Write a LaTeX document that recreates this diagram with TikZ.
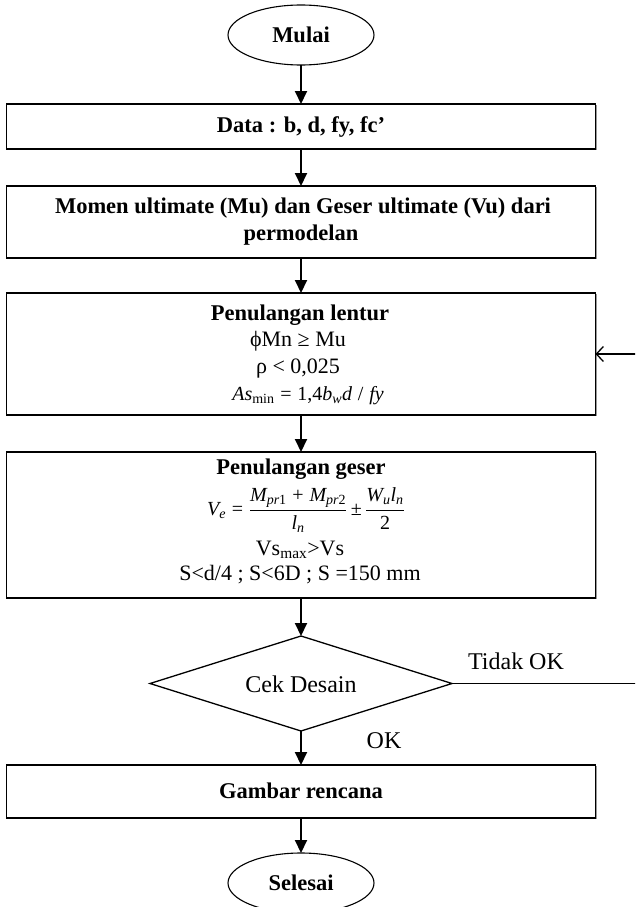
\documentclass[tikz,border=0pt]{standalone}
\usepackage{fontspec}
\usepackage{amsmath}
\setmainfont{Liberation Serif}
\usetikzlibrary{shapes.geometric,arrows.meta,shadows}

% italic and upright pieces of the formulas, set in the text font
\newcommand{\fit}[1]{\text{\itshape #1}}
\newcommand{\fup}[1]{\text{\upshape #1}}

\begin{document}
\begin{tikzpicture}[x=1pt,y=-1pt,
  every node/.style={inner sep=0pt,outer sep=0pt},
  procbox/.style={draw,line width=1.2pt,fill=white,minimum width=589pt,
    drop shadow={shadow xshift=1.4pt,shadow yshift=-1.4pt,fill=black!40,opacity=1}},
  termin/.style={ellipse,draw,line width=1.1pt,minimum width=146pt,minimum height=60pt},
  decis/.style={diamond,draw,line width=1.3pt,aspect=3.18,minimum width=302pt,minimum height=95pt},
  flow/.style={-{Triangle[length=13pt,width=12pt]},line width=2pt},
  back/.style={-{Straight Barb[length=7pt,width=15pt]},line width=1.3pt},
  hd/.style={font=\fontsize{22.5}{27}\selectfont\bfseries},
  txt/.style={font=\fontsize{22}{26}\selectfont},
  frm/.style={font=\fontsize{20}{24}\selectfont},
  lbl/.style={font=\fontsize{24}{28}\selectfont}]

\path[use as bounding box] (0,0) rectangle (635,907);
\clip (0,0) rectangle (635,907);

% terminals
\node[termin,hd] (start) at (301,35) {Mulai};
\node[termin,hd] (stop) at (301,883) {Selesai};

% process boxes
\node[procbox,minimum height=45pt] (data) at (301,126.5) {};
\node[hd] (dataT) at (301,127) {Data : b, d, fy, fc’};

\node[procbox,minimum height=72pt] (momen) at (301,222) {};
\node[hd] (momenA) at (303,208) {Momen ultimate (Mu) dan Geser ultimate (Vu) dari};
\node[hd] (momenB) at (301,235) {permodelan};

\node[procbox,minimum height=122pt] (lentur) at (301,354) {};
\node[hd] (lenturA) at (300,315) {Penulangan lentur};
\node[txt] (lenturB) at (298,341) {ϕMn ≥ Mu};
\node[txt] (lenturC) at (298,369) {ρ < 0,025};
\node[frm] (lenturD) at (308,396)
  {$\fit{As}_{\fup{min}}\;\fup{=}\;\fup{1,4}\fit{b}_{\fit{w}}\fit{d}\;\fup{/}\;\fit{fy}$};

\node[procbox,minimum height=146pt] (geser) at (301,525) {};
\node[hd] (geserA) at (301,469) {Penulangan geser};
\node[frm] (geserB) at (306,510)
  {$\fit{V}_{\fit{e}}\;\fup{=}\;\dfrac{\fit{M}_{\fit{pr}\fup{1}}\;\fup{+}\;\fit{M}_{\fit{pr}\fup{2}}}{\fit{l}_{\fit{n}}}\,\fup{±}\,\dfrac{\fit{W}_{\fit{u}}\fit{l}_{\fit{n}}}{\fup{2}}$};
\node[txt] (geserC) at (300,550) {Vs\textsubscript{max}>Vs};
\node[txt] (geserD) at (300,575) {S<d/4 ; S<6D ; S =150 mm};

% decision
\node[decis] (cek) at (301,683.5) {};
\node[lbl] (cekT) at (301,684) {Cek Desain};
\node[lbl] (tidak) at (516,661) {Tidak OK};
\node[lbl] (ok) at (384,741) {OK};

\node[procbox,minimum height=53pt] (gambar) at (301,791.5) {};
\node[hd] (gambarT) at (301,791) {Gambar rencana};

% main flow
\draw[flow] (start) -- (data);
\draw[flow] (data) -- (momen);
\draw[flow] (momen) -- (lentur);
\draw[flow] (lentur) -- (geser);
\draw[flow] (geser) -- (cek);
\draw[flow] (cek) -- (gambar);
\draw[flow] (gambar) -- (stop);

% loop back when the check fails
\coordinate (loopx) at (642,0);
\draw[back] (cek.east) -- (cek.east -| loopx) |- (lentur.east);

\end{tikzpicture}
\end{document}
